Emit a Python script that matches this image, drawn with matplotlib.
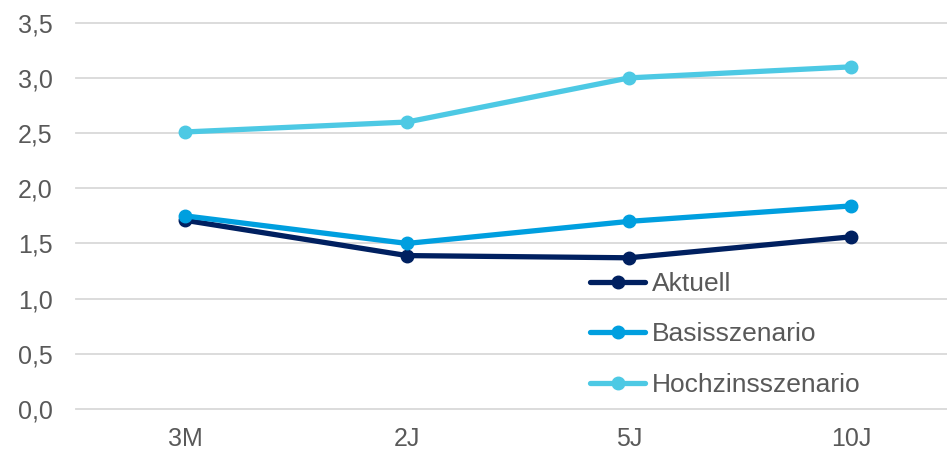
"""Zinsszenarien: Aktuell vs. Basis- und Hochzinsszenario."""

import matplotlib
matplotlib.use('Agg')
import matplotlib.pyplot as plt
from matplotlib.ticker import FuncFormatter

TENORS = ['3M', '2J', '5J', '10J']
AKTUELL = [1.71, 1.39, 1.37, 1.56]
BASIS = [1.75, 1.50, 1.70, 1.84]
HOCHZINS = [2.51, 2.60, 3.00, 3.10]
SERIES = ['Aktuell', 'Basisszenario', 'Hochzinsszenario']
COLORS = ['#002060', '#009FDF', '#4DC9E4']
TEXT_COLOR = '#595959'
W, H = 947, 453


def build_plot():
  """Draw the three curves and save to out.png."""
  plt.rcParams['font.family'] = ['Liberation Sans', 'DejaVu Sans']
  fig = plt.figure(figsize=(W / 100, H / 100), dpi=100)
  # axes in pixel coords: left 76, bottom 44, right edge of figure
  ax = fig.add_axes([76 / W, 44 / H, (W - 76) / W, 386.3 / H])

  x = list(range(len(TENORS)))
  for name, vals, col in zip(SERIES, [AKTUELL, BASIS, HOCHZINS], COLORS):
    ax.plot(x, vals, color=col, lw=3.8, marker='o', ms=9,
            solid_capstyle='round', label=name, zorder=3)

  ax.set_xlim(-0.491, 3.432)
  ax.set_ylim(0, 3.5)
  ax.set_yticks([i * 0.5 for i in range(8)])
  ax.yaxis.set_major_formatter(
      FuncFormatter(lambda v, _: f'{v:.1f}'.replace('.', ',')))
  ax.set_xticks(x)
  ax.set_xticklabels(TENORS)
  ax.tick_params(length=0, labelsize=18, colors=TEXT_COLOR)
  ax.tick_params(axis='y', pad=17)
  ax.tick_params(axis='x', pad=13)
  for s in ax.spines.values():
    s.set_visible(False)
  ax.grid(axis='y', color='#D9D9D9', lw=1.3, clip_on=False)
  ax.set_axisbelow(True)

  leg = ax.legend(loc='upper left', bbox_to_anchor=(590 / W, 1 - 272 / H),
                  bbox_transform=fig.transFigure, frameon=False,
                  fontsize=19, handlelength=2.1, handletextpad=0.25,
                  labelspacing=1.0, borderpad=0, borderaxespad=0)
  for t in leg.get_texts():
    t.set_color(TEXT_COLOR)

  fig.savefig('out.png', dpi=100)


if __name__ == '__main__':
  build_plot()
